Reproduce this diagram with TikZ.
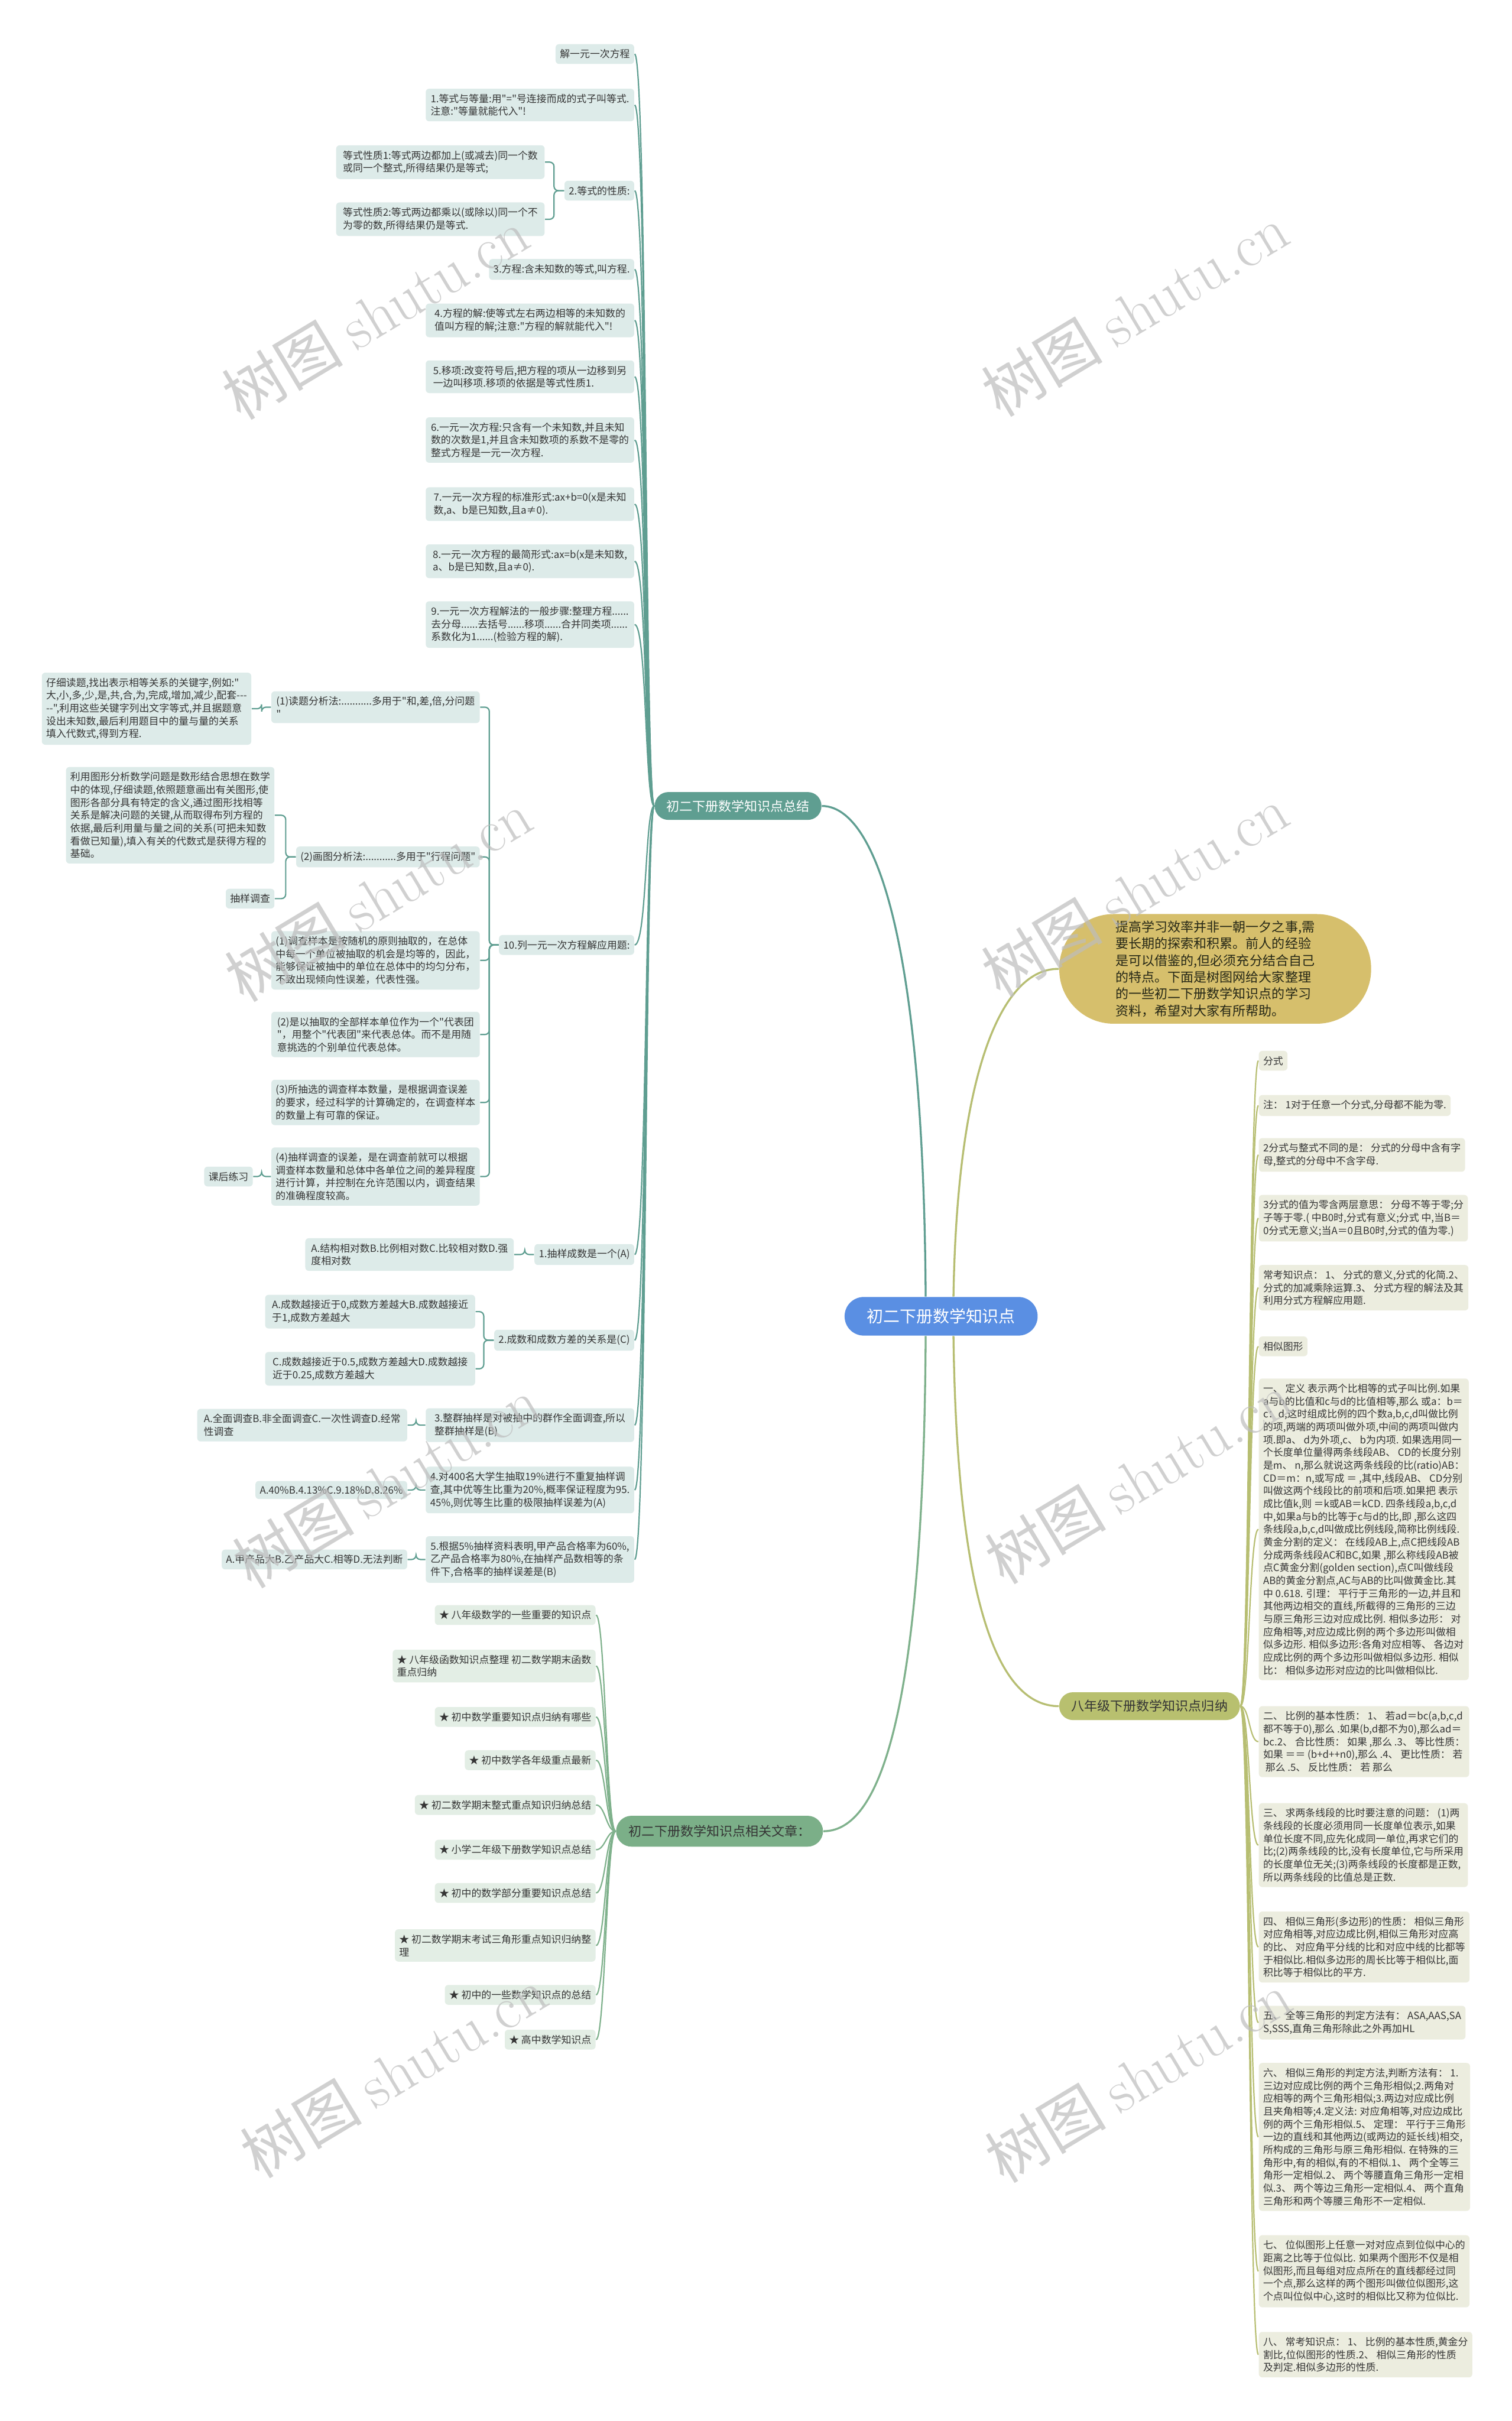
\documentclass[tikz,border=0pt]{standalone}
\usepackage{fontspec}
\newfontfamily\zh{Noto Sans CJK SC}
\usetikzlibrary{calc}

\definecolor{tealln}{HTML}{5F9E91}
\definecolor{tealbg}{HTML}{DDEBE9}
\definecolor{grnln}{HTML}{7FB18C}
\definecolor{grnbg}{HTML}{E3EEE5}
\definecolor{grnnode}{HTML}{7BAF88}
\definecolor{olvln}{HTML}{B7BE72}
\definecolor{olvbg}{HTML}{ECEDDF}
\definecolor{olvnode}{HTML}{B8C06F}
\definecolor{goldnode}{HTML}{D6BF6C}
\definecolor{rootbl}{HTML}{5A8FE3}
\definecolor{txtc}{HTML}{353535}
\definecolor{wmark}{HTML}{BDBDBD}

\newcommand{\kidfont}{\zh\fontsize{4.6pt}{5.9pt}\selectfont}
\newcommand{\topfont}{\zh\fontsize{6pt}{7.7pt}\selectfont}

\begin{document}
\begin{tikzpicture}[x=0.025cm, y=-0.025cm,
    every node/.style={font=\kidfont, text=txtc, inner xsep=0.07cm, inner ysep=0.085cm, rounded corners=1.6pt},
    tbox/.style={fill=tealbg, align=left, anchor=east},
    gbox/.style={fill=grnbg, align=left, anchor=east},
    obox/.style={fill=olvbg, align=left, anchor=west},
    wd/.style={minimum width=#1*0.025cm},
    tl/.style={draw=tealln, line width=0.6pt},
    tel/.style={tl, rounded corners=2pt},
    gl/.style={draw=grnln, line width=0.6pt},
    ol/.style={draw=olvln, line width=0.6pt},
    big/.style={font=\topfont, inner sep=0pt}]
    \fill[white] (0,0) rectangle (979,1568);
    \useasboundingbox (0,0) rectangle (979,1568);

    % 中心
    \node[fill=rootbl, text=white, font=\zh\fontsize{7.6pt}{9pt}\selectfont, inner sep=0pt,
          minimum width=125*0.025cm, minimum height=25*0.025cm, rounded corners=0.31cm] (root) at (609.5,852.5) {初二下册数学知识点};
    \node[big, fill=tealln, text=white, minimum width=108*0.025cm, minimum height=18*0.025cm, rounded corners=0.22cm] (zj) at (478,522) {初二下册数学知识点总结};
    \node[big, fill=grnnode, minimum width=134*0.025cm, minimum height=20*0.025cm, rounded corners=0.25cm] (rel) at (466,1186) {初二下册数学知识点相关文章：};
    \node[big, fill=olvnode, minimum width=117*0.025cm, minimum height=18*0.025cm, rounded corners=0.22cm] (bnj) at (744.5,1105) {八年级下册数学知识点归纳};
    \node[big, fill=goldnode, text=black!80!olvnode, align=left, minimum width=202*0.025cm, minimum height=71*0.025cm, rounded corners=0.88cm] (intro) at (787,627.5)
        {提高学习效率并非一朝一夕之事,需\\要长期的探索和积累。前人的经验\\是可以借鉴的,但必须充分结合自己\\的特点。下面是树图网给大家整理\\的一些初二下册数学知识点的学习\\资料，希望对大家有所帮助。};

    % 左侧：方程
    \node[tbox] (k1) at (411,35) {解一元一次方程};
    \node[tbox, wd=135] (k2) at (411,68) {1.等式与等量:用"="号连接而成的式子叫等式.\\注意:"等量就能代入"!};
    \node[tbox] (k3) at (411,123.5) {2.等式的性质:};
    \node[tbox, wd=135] (k3a) at (353,105) {等式性质1:等式两边都加上(或减去)同一个数\\或同一个整式,所得结果仍是等式;};
    \node[tbox, wd=135] (k3b) at (353,142) {等式性质2:等式两边都乘以(或除以)同一个不\\为零的数,所得结果仍是等式.};
    \node[tbox] (k4) at (411,174.5) {3.方程:含未知数的等式,叫方程.};
    \node[tbox, wd=135] (k5) at (411,207.5) {4.方程的解:使等式左右两边相等的未知数的\\值叫方程的解;注意:"方程的解就能代入"!};
    \node[tbox, wd=135] (k6) at (411,244) {5.移项:改变符号后,把方程的项从一边移到另\\一边叫移项.移项的依据是等式性质1.};
    \node[tbox, wd=135] (k7) at (411,285) {6.一元一次方程:只含有一个未知数,并且未知\\数的次数是1,并且含未知数项的系数不是零的\\整式方程是一元一次方程.};
    \node[tbox, wd=135] (k8) at (411,326.5) {7.一元一次方程的标准形式:ax+b=0(x是未知\\数,a、b是已知数,且a≠0).};
    \node[tbox, wd=135] (k9) at (411,363.5) {8.一元一次方程的最简形式:ax=b(x是未知数,\\a、b是已知数,且a≠0).};
    \node[tbox, wd=135] (k10) at (411,404.5) {9.一元一次方程解法的一般步骤:整理方程......\\去分母......去括号......移项......合并同类项......\\系数化为1......(检验方程的解).};

    % 左侧：应用题
    \node[tbox] (k11) at (411,612) {10.列一元一次方程解应用题:};
    \node[tbox, wd=135] (p1) at (311,458) {(1)读题分析法:...........多用于"和,差,倍,分问题\\"};
    \node[tbox, wd=135] (p1a) at (163,459) {仔细读题,找出表示相等关系的关键字,例如:"\\大,小,多,少,是,共,合,为,完成,增加,减少,配套-{}-{}-\\-{}-",利用这些关键字列出文字等式,并且据题意\\设出未知数,最后利用题目中的量与量的关系\\填入代数式,得到方程.};
    \node[tbox] (p2) at (311,555) {(2)画图分析法:...........多用于"行程问题"};
    \node[tbox, wd=134] (p2a) at (178,528) {利用图形分析数学问题是数形结合思想在数学\\中的体现,仔细读题,依照题意画出有关图形,使\\图形各部分具有特定的含义,通过图形找相等\\关系是解决问题的关键,从而取得布列方程的\\依据,最后利用量与量之间的关系(可把未知数\\看做已知量),填入有关的代数式是获得方程的\\基础。};
    \node[tbox] (p2b) at (178,582) {抽样调查};
    \node[tbox, wd=135] (p3) at (311,622) {(1)调查样本是按随机的原则抽取的，在总体\\中每一个单位被抽取的机会是均等的，因此，\\能够保证被抽中的单位在总体中的均匀分布，\\不致出现倾向性误差，代表性强。};
    \node[tbox, wd=135] (p4) at (311,670) {(2)是以抽取的全部样本单位作为一个"代表团\\"，用整个"代表团"来代表总体。而不是用随\\意挑选的个别单位代表总体。};
    \node[tbox, wd=135] (p5) at (311,714) {(3)所抽选的调查样本数量，是根据调查误差\\的要求，经过科学的计算确定的，在调查样本\\的数量上有可靠的保证。};
    \node[tbox, wd=135] (p6) at (311,762) {(4)抽样调查的误差，是在调查前就可以根据\\调查样本数量和总体中各单位之间的差异程度\\进行计算，并控制在允许范围以内，调查结果\\的准确程度较高。};
    \node[tbox] (p6a) at (164,762) {课后练习};

    % 左侧：课后练习题
    \node[tbox] (k12) at (411,812.5) {1.抽样成数是一个(A)};
    \node[tbox, wd=135] (k12a) at (333,812.5) {A.结构相对数B.比例相对数C.比较相对数D.强\\度相对数};
    \node[tbox] (k13) at (411,868) {2.成数和成数方差的关系是(C)};
    \node[tbox, wd=136] (k13a) at (308,849.5) {A.成数越接近于0,成数方差越大B.成数越接近\\于1,成数方差越大};
    \node[tbox, wd=136] (k13b) at (308,886.5) {C.成数越接近于0.5,成数方差越大D.成数越接\\近于0.25,成数方差越大};
    \node[tbox, wd=135] (k14) at (411,923) {3.整群抽样是对被抽中的群作全面调查,所以\\整群抽样是(B)};
    \node[tbox, wd=136] (k14a) at (264,923) {A.全面调查B.非全面调查C.一次性调查D.经常\\性调查};
    \node[tbox, wd=135] (k15) at (411,965) {4.对400名大学生抽取19\%进行不重复抽样调\\查,其中优等生比重为20\%,概率保证程度为95.\\45\%,则优等生比重的极限抽样误差为(A)};
    \node[tbox] (k15a) at (264,965) {A.40\%B.4.13\%C.9.18\%D.8.26\%};
    \node[tbox, wd=135] (k16) at (411,1010) {5.根据5\%抽样资料表明,甲产品合格率为60\%,\\乙产品合格率为80\%,在抽样产品数相等的条\\件下,合格率的抽样误差是(B)};
    \node[tbox] (k16a) at (264,1010) {A.甲产品大B.乙产品大C.相等D.无法判断};

    \foreach \i in {1,...,16}{
        \draw[tl] (zj.west) .. controls +(-6,0) and +(8,0) .. (k\i.east);
    }
    \draw[tel] (k3.west) -- ++(-6.5,0) |- (k3a.east);
    \draw[tel] (k3.west) -- ++(-6.5,0) |- (k3b.east);
    \foreach \p in {p1,p2,p3,p4,p5,p6}{
        \draw[tel] (k11.west) -- ++(-6,0) |- (\p.east);
    }
    \draw[tel] (p1.west) -- ++(-6,0) |- (p1a.east);
    \draw[tel] (p2.west) -- ++(-6.5,0) |- (p2a.east);
    \draw[tel] (p2.west) -- ++(-6.5,0) |- (p2b.east);
    \draw[tel] (p6.west) -- ++(-6,0) |- (p6a.east);
    \draw[tel] (k12.west) -- ++(-6,0) |- (k12a.east);
    \draw[tel] (k13.west) -- ++(-6.5,0) |- (k13a.east);
    \draw[tel] (k13.west) -- ++(-6.5,0) |- (k13b.east);
    \draw[tel] (k14.west) -- ++(-6,0) |- (k14a.east);
    \draw[tel] (k15.west) -- ++(-6,0) |- (k15a.east);
    \draw[tel] (k16.west) -- ++(-6,0) |- (k16a.east);

    % 相关文章
    \foreach \i/\y/\t in {1/1046/{★ 八年级数学的一些重要的知识点},
                          2/1079/{★ 八年级函数知识点整理 初二数学期末函数\\重点归纳},
                          3/1112/{★ 初中数学重要知识点归纳有哪些},
                          4/1140/{★ 初中数学各年级重点最新},
                          5/1169/{★ 初二数学期末整式重点知识归纳总结},
                          6/1198/{★ 小学二年级下册数学知识点总结},
                          7/1226/{★ 初中的数学部分重要知识点总结},
                          8/1260/{★ 初二数学期末考试三角形重点知识归纳整\\理},
                          9/1292/{★ 初中的一些数学知识点的总结},
                          10/1321/{★ 高中数学知识点}}{
        \node[gbox] (g\i) at (386,\y) {\t};
        \draw[gl] (rel.west) .. controls +(-6,0) and +(6,0) .. (g\i.east);
    }

    % 右侧：八年级
    \node[obox] (r0) at (815,687) {分式};
    \node[obox] (r1) at (815,716) {注： 1对于任意一个分式,分母都不能为零.};
    \node[obox, wd=133] (r2) at (815,748) {2分式与整式不同的是： 分式的分母中含有字\\母,整式的分母中不含字母.};
    \node[obox, wd=133] (r3) at (815,789) {3分式的值为零含两层意思： 分母不等于零;分\\子等于零.( 中B0时,分式有意义;分式 中,当B＝\\0分式无意义;当A＝0且B0时,分式的值为零.)};
    \node[obox, wd=133] (r4) at (815,834) {常考知识点： 1、 分式的意义,分式的化简.2、\\分式的加减乘除运算.3、 分式方程的解法及其\\利用分式方程解应用题.};
    \node[obox] (r5) at (815,872) {相似图形};
    \node[obox, wd=133] (r6) at (815,990.5) {一、 定义 表示两个比相等的式子叫比例.如果\\a与b的比值和c与d的比值相等,那么 或a：b＝\\c：d,这时组成比例的四个数a,b,c,d叫做比例\\的项,两端的两项叫做外项,中间的两项叫做内\\项.即a、 d为外项,c、 b为内项. 如果选用同一\\个长度单位量得两条线段AB、 CD的长度分别\\是m、 n,那么就说这两条线段的比(ratio)AB：\\CD＝m：n,或写成 ＝ ,其中,线段AB、 CD分别\\叫做这两个线段比的前项和后项.如果把 表示\\成比值k,则 ＝k或AB＝kCD. 四条线段a,b,c,d\\中,如果a与b的比等于c与d的比,即 ,那么这四\\条线段a,b,c,d叫做成比例线段,简称比例线段.\\黄金分割的定义： 在线段AB上,点C把线段AB\\分成两条线段AC和BC,如果 ,那么称线段AB被\\点C黄金分割(golden section),点C叫做线段\\AB的黄金分割点,AC与AB的比叫做黄金比.其\\中 0.618. 引理： 平行于三角形的一边,并且和\\其他两边相交的直线,所截得的三角形的三边\\与原三角形三边对应成比例. 相似多边形： 对\\应角相等,对应边成比例的两个多边形叫做相\\似多边形. 相似多边形:各角对应相等、 各边对\\应成比例的两个多边形叫做相似多边形. 相似\\比： 相似多边形对应边的比叫做相似比.};
    \node[obox, wd=133] (r7) at (815,1128) {二、 比例的基本性质： 1、 若ad＝bc(a,b,c,d\\都不等于0),那么 .如果(b,d都不为0),那么ad＝\\bc.2、 合比性质： 如果 ,那么 .3、 等比性质：\\如果 ＝＝ (b+d++n0),那么 .4、 更比性质： 若\\~那么 .5、 反比性质： 若 那么};
    \node[obox, wd=133] (r8) at (815,1195) {三、 求两条线段的比时要注意的问题： (1)两\\条线段的长度必须用同一长度单位表示,如果\\单位长度不同,应先化成同一单位,再求它们的\\比;(2)两条线段的比,没有长度单位,它与所采用\\的长度单位无关;(3)两条线段的长度都是正数,\\所以两条线段的比值总是正数.};
    \node[obox, wd=133] (r9) at (815,1261) {四、 相似三角形(多边形)的性质： 相似三角形\\对应角相等,对应边成比例,相似三角形对应高\\的比、 对应角平分线的比和对应中线的比都等\\于相似比.相似多边形的周长比等于相似比,面\\积比等于相似比的平方.};
    \node[obox, wd=133] (r10) at (815,1310) {五、 全等三角形的判定方法有： ASA,AAS,SA\\S,SSS,直角三角形除此之外再加HL};
    \node[obox, wd=133] (r11) at (815,1384) {六、 相似三角形的判定方法,判断方法有： 1.\\三边对应成比例的两个三角形相似;2.两角对\\应相等的两个三角形相似;3.两边对应成比例\\且夹角相等;4.定义法: 对应角相等,对应边成比\\例的两个三角形相似.5、 定理： 平行于三角形\\一边的直线和其他两边(或两边的延长线)相交,\\所构成的三角形与原三角形相似. 在特殊的三\\角形中,有的相似,有的不相似.1、 两个全等三\\角形一定相似.2、 两个等腰直角三角形一定相\\似.3、 两个等边三角形一定相似.4、 两个直角\\三角形和两个等腰三角形不一定相似.};
    \node[obox, wd=133] (r12) at (815,1471) {七、 位似图形上任意一对对应点到位似中心的\\距离之比等于位似比. 如果两个图形不仅是相\\似图形,而且每组对应点所在的直线都经过同\\一个点,那么这样的两个图形叫做位似图形,这\\个点叫位似中心,这时的相似比又称为位似比.};
    \node[obox, wd=133] (r13) at (815,1525) {八、 常考知识点： 1、 比例的基本性质,黄金分\\割比,位似图形的性质.2、 相似三角形的性质\\及判定.相似多边形的性质.};
    \foreach \i in {0,...,13}{
        \draw[ol] (bnj.east) .. controls +(6,0) and +(-6,0) .. (r\i.west);
    }

    % 主干连线
    \draw[tl, line width=0.9pt] ($(root.north)+(-10,0)$) .. controls (598,600) and (565,522) .. (zj.east);
    \draw[gl, line width=0.9pt] ($(root.south)+(-10,0)$) .. controls (598,1130) and (565,1186) .. (rel.east);
    \draw[ol, line width=0.9pt] ($(root.north)+(8,0)$) .. controls (620,690) and (650,627) .. (intro.west);
    \draw[ol, line width=0.9pt] ($(root.south)+(8,0)$) .. controls (620,1050) and (650,1105) .. (bnj.west);

    % 水印
    \foreach \x/\y [count=\k] in {243/203, 735/201, 245/580, 735/577, 250/960, 737/957, 255/1342, 737/1345}{
        \node[rotate=31, text=wmark, opacity=0.7, inner sep=0pt, font=\zh\fontsize{28pt}{28pt}\selectfont] (wm\k) at (\x,\y) {树图 {\rmfamily shutu.cn}};
    }
\end{tikzpicture}
\end{document}
